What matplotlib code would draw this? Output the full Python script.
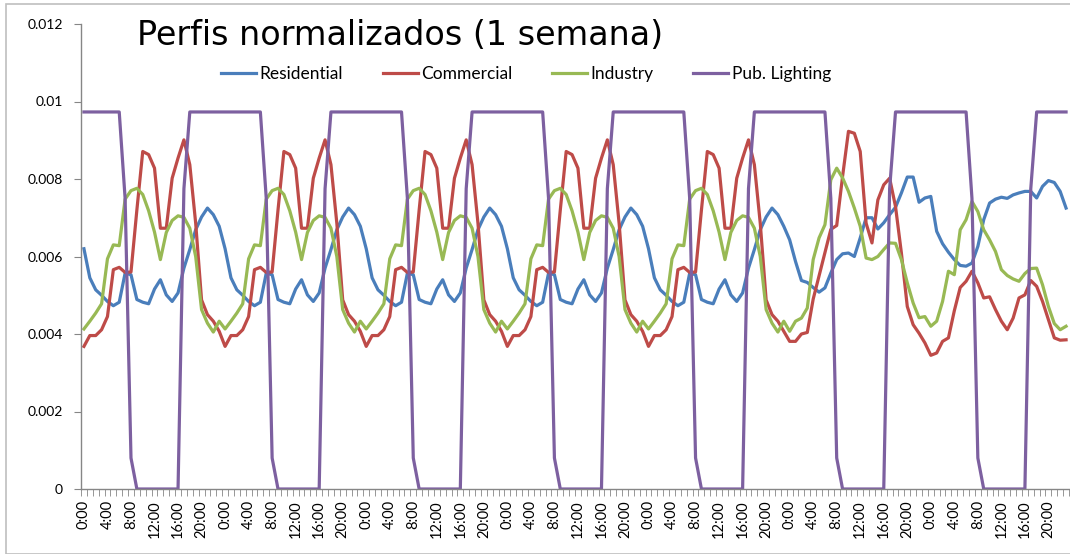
import numpy as np
import matplotlib
matplotlib.use('Agg')
import matplotlib.pyplot as plt
from matplotlib.patches import Rectangle

# hourly profiles (mon-fri are identical)
residential_weekday = [0.00620, 0.00545, 0.00514, 0.00500, 0.00484, 0.00473, 0.00482, 0.00557,
                       0.00553, 0.00489, 0.00482, 0.00478, 0.00516, 0.00540, 0.00501, 0.00484,
                       0.00506, 0.00570, 0.00618, 0.00669, 0.00702, 0.00725, 0.00708, 0.00678]
residential_sat = [0.00643, 0.00587, 0.00538, 0.00533, 0.00520, 0.00508, 0.00519, 0.00557,
                   0.00592, 0.00607, 0.00609, 0.00600, 0.00648, 0.00700, 0.00700, 0.00671,
                   0.00687, 0.00708, 0.00727, 0.00764, 0.00805, 0.00805, 0.00740, 0.00751]
residential_sun = [0.00755, 0.00665, 0.00633, 0.00611, 0.00592, 0.00577, 0.00575, 0.00583,
                   0.00626, 0.00695, 0.00738, 0.00748, 0.00753, 0.00750, 0.00759, 0.00764,
                   0.00768, 0.00768, 0.00751, 0.00781, 0.00796, 0.00791, 0.00768, 0.00725]

commercial_weekday = [0.00368, 0.00396, 0.00396, 0.00411, 0.00445, 0.00566, 0.00572, 0.00559,
                      0.00560, 0.00720, 0.00871, 0.00863, 0.00828, 0.00673, 0.00673, 0.00802,
                      0.00854, 0.00901, 0.00837, 0.00686, 0.00488, 0.00450, 0.00433, 0.00407]
commercial_sat = [0.00381, 0.00381, 0.00400, 0.00404, 0.00490, 0.00550, 0.00610, 0.00670,
                  0.00680, 0.00807, 0.00923, 0.00918, 0.00871, 0.00686, 0.00635, 0.00746,
                  0.00785, 0.00802, 0.00729, 0.00609, 0.00471, 0.00424, 0.00402, 0.00377]
commercial_sun = [0.00345, 0.00351, 0.00381, 0.00390, 0.00460, 0.00520, 0.00536, 0.00562,
                  0.00532, 0.00493, 0.00496, 0.00463, 0.00433, 0.00411, 0.00441, 0.00493,
                  0.00501, 0.00538, 0.00523, 0.00484, 0.00437, 0.00390, 0.00384, 0.00385]

industry_weekday = [0.00413, 0.00433, 0.00454, 0.00478, 0.00594, 0.00630, 0.00628, 0.00748,
                    0.00770, 0.00776, 0.00760, 0.00718, 0.00663, 0.00592, 0.00662, 0.00693,
                    0.00705, 0.00701, 0.00673, 0.00600, 0.00463, 0.00428, 0.00405, 0.00433]
industry_sat = [0.00407, 0.00433, 0.00441, 0.00467, 0.00592, 0.00648, 0.00682, 0.00798,
                0.00828, 0.00803, 0.00768, 0.00725, 0.00678, 0.00596, 0.00592, 0.00600,
                0.00618, 0.00635, 0.00634, 0.00592, 0.00532, 0.00480, 0.00442, 0.00445]
industry_sun = [0.00420, 0.00433, 0.00484, 0.00562, 0.00553, 0.00669, 0.00695, 0.00742,
                0.00716, 0.00669, 0.00643, 0.00613, 0.00566, 0.00551, 0.00542, 0.00536,
                0.00556, 0.00569, 0.00570, 0.00527, 0.00471, 0.00427, 0.00411, 0.00420]

lighting_day = [0.00973, 0.00973, 0.00973, 0.00973, 0.00973, 0.00973, 0.00973, 0.00750,
                0.00080, 0.0, 0.0, 0.0, 0.0, 0.0, 0.0, 0.0,
                0.0, 0.00775, 0.00973, 0.00973, 0.00973, 0.00973, 0.00973, 0.00973]

hour_labels = ['0:00', '4:00', '8:00', '12:00', '16:00', '20:00']

residential = residential_weekday * 5 + residential_sat + residential_sun
commercial = commercial_weekday * 5 + commercial_sat + commercial_sun
industry = industry_weekday * 5 + industry_sat + industry_sun
lighting = lighting_day * 7
x = np.arange(len(residential))

fig = plt.figure(figsize=(10.7, 5.54), dpi=100)
ax = fig.add_axes([81/1070, 1-489/554, 988/1070, 465/554])

lw = 2.3
ax.plot(x, residential, color='#4A7EBB', lw=lw, label='Residential')
ax.plot(x, commercial, color='#BE4B48', lw=lw, label='Commercial')
ax.plot(x, industry, color='#98B954', lw=lw, label='Industry')
ax.plot(x, lighting, color='#7D60A0', lw=lw, label='Pub. Lighting')

ax.set_xlim(-0.5, len(x) - 0.5)
ax.set_ylim(0, 0.012)

grey = '#868686'
for s in ['top', 'right']:
    ax.spines[s].set_visible(False)
for s in ['left', 'bottom']:
    ax.spines[s].set_color(grey)
    ax.spines[s].set_linewidth(1.0)

ax.set_yticks(np.arange(0, 0.0121, 0.002))
ax.set_yticklabels(['0', '0.002', '0.004', '0.006', '0.008', '0.01', '0.012'],
                   fontfamily='Lato', fontsize=10)
ax.tick_params(axis='y', length=5, color=grey, pad=8)

ax.set_xticks(np.arange(0, len(x), 4))
ax.set_xticklabels(hour_labels * 7, rotation=90, fontfamily='Lato', fontsize=10.5)
ax.set_xticks(np.arange(-0.5, len(x), 1), minor=True)
ax.tick_params(axis='x', which='major', length=0, pad=8)
ax.tick_params(axis='x', which='minor', length=5, color=grey)

fig.text(137/1070, 1-45/554, 'Perfis normalizados (1 semana)', fontsize=24,
         fontfamily='DejaVu Sans', va='baseline', ha='left')

fig.legend(loc='center', bbox_to_anchor=(526/1070, 1-74/554), ncol=4, frameon=False,
           prop={'family': 'Lato', 'size': 12.5}, handlelength=2.0, handletextpad=0.2,
           columnspacing=2.3)

# chart frame
fig.patches.append(Rectangle((6/1070, 0), 1, 1-4/554, transform=fig.transFigure,
                             fill=False, edgecolor='#BFBFBF', lw=1.2))

fig.savefig('out.png', dpi=100)
